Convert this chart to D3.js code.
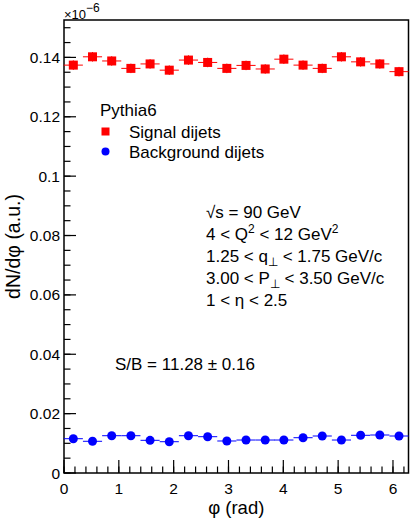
<!DOCTYPE html>
<html>
<head>
<meta charset="utf-8">
<script src="https://cdn.jsdelivr.net/npm/d3@7"></script>
<style>
  body { margin: 0; background: #fff; }
  text { font-family: "Liberation Sans", Arial, sans-serif; fill: #000; }
</style>
</head>
<body>
<script>
// bin centres in phi (rad), 18 bins over [0, 2pi]
const phiBins = [0.17, 0.52, 0.87, 1.22, 1.57, 1.92, 2.27, 2.62, 2.97,
                 3.32, 3.67, 4.01, 4.36, 4.71, 5.06, 5.41, 5.76, 6.11];
const binWidth = 0.349;

// dN/dphi in units of 1e-6
const signalVals = [0.1374, 0.1402, 0.1388, 0.1363, 0.1378, 0.1357, 0.1391, 0.1383, 0.1363,
                    0.1373, 0.1361, 0.1394, 0.1374, 0.1363, 0.1402, 0.1385, 0.1378, 0.1352];
const signalErr = [0.0016, 0.0016, 0.0016, 0.0016, 0.0016, 0.0016, 0.0016, 0.0016, 0.0016,
                   0.0016, 0.0016, 0.0016, 0.0016, 0.0016, 0.0016, 0.0016, 0.0016, 0.0016];
const backgroundVals = [0.01155, 0.01068, 0.01256, 0.01256, 0.01101, 0.01054, 0.01256, 0.01223, 0.01078,
                        0.01111, 0.01111, 0.01111, 0.01189, 0.01246, 0.01111, 0.01270, 0.01280, 0.01246];
const backgroundErr = [0.0005, 0.0005, 0.0005, 0.0005, 0.0005, 0.0005, 0.0005, 0.0005, 0.0005,
                       0.0005, 0.0005, 0.0005, 0.0005, 0.0005, 0.0005, 0.0005, 0.0005, 0.0005];

const xTicks = [0, 1, 2, 3, 4, 5, 6];
const yTicks = [0, 0.02, 0.04, 0.06, 0.08, 0.1, 0.12, 0.14];

const svgWidth = 415, svgHeight = 522;
const margin = { top: 20, right: 6.5, bottom: 49, left: 64 };
const width = svgWidth - margin.left - margin.right;
const height = svgHeight - margin.top - margin.bottom;

const svg = d3.select("body").append("svg")
    .attr("width", svgWidth)
    .attr("height", svgHeight);

const chartGroup = svg.append("g")
    .attr("transform", `translate(${margin.left}, ${margin.top})`);

const x = d3.scaleLinear().domain([0, 2 * Math.PI]).range([0, width]);
const y = d3.scaleLinear().domain([0, 0.1526]).range([height, 0]);

// minor ticks
const xMinor = d3.range(0, 6.3, 0.2);
const yMinor = d3.range(0, 0.1526, 0.005);

chartGroup.selectAll(".xminor").data(xMinor).enter().append("line")
    .attr("x1", d => x(d)).attr("x2", d => x(d))
    .attr("y1", height).attr("y2", height - 6.5)
    .attr("stroke", "#000").attr("stroke-width", 1.2);
chartGroup.selectAll(".xmajor").data(xTicks).enter().append("line")
    .attr("x1", d => x(d)).attr("x2", d => x(d))
    .attr("y1", height).attr("y2", height - 13)
    .attr("stroke", "#000").attr("stroke-width", 1.2);
chartGroup.selectAll(".yminor").data(yMinor).enter().append("line")
    .attr("x1", 0).attr("x2", 6.5)
    .attr("y1", d => y(d)).attr("y2", d => y(d))
    .attr("stroke", "#000").attr("stroke-width", 1.2);
chartGroup.selectAll(".ymajor").data(yTicks).enter().append("line")
    .attr("x1", 0).attr("x2", 12)
    .attr("y1", d => y(d)).attr("y2", d => y(d))
    .attr("stroke", "#000").attr("stroke-width", 1.2);

// tick labels
chartGroup.selectAll(".xlab").data(xTicks).enter().append("text")
    .attr("x", d => x(d)).attr("y", height + 21)
    .attr("text-anchor", "middle").attr("font-size", 15.5)
    .text(d => d);
chartGroup.selectAll(".ylab").data(yTicks).enter().append("text")
    .attr("x", -4).attr("y", d => y(d) + 5.5)
    .attr("text-anchor", "end").attr("font-size", 15.5)
    .text(d => d === 0 ? "0" : d3.format("")(+d.toFixed(2)));

// frame
chartGroup.append("rect")
    .attr("width", width).attr("height", height)
    .attr("fill", "none").attr("stroke", "#000").attr("stroke-width", 1.5);

// exponent
const expo = svg.append("text").attr("x", 64).attr("y", 18.5).attr("font-size", 13);
expo.append("tspan").text("\u00d710");
expo.append("tspan").attr("dy", -7).attr("font-size", 12).text("\u22126");

// axis titles
svg.append("text")
    .attr("x", margin.left + width / 2).attr("y", 514)
    .attr("text-anchor", "middle").attr("font-size", 18.5)
    .text("\u03c6 (rad)");
svg.append("text")
    .attr("transform", `translate(20, ${margin.top + height / 2}) rotate(-90)`)
    .attr("text-anchor", "middle").attr("font-size", 19.5)
    .text("dN/d\u03c6 (a.u.)");

// data series
function drawSeries(vals, errs, color, shape) {
    const g = chartGroup.append("g");
    const pts = g.selectAll("g").data(vals).enter().append("g");
    pts.append("line")
        .attr("x1", (d, i) => x(phiBins[i] - binWidth / 2))
        .attr("x2", (d, i) => x(phiBins[i] + binWidth / 2))
        .attr("y1", d => y(d)).attr("y2", d => y(d))
        .attr("stroke", color).attr("stroke-width", 1);
    pts.append("line")
        .attr("x1", (d, i) => x(phiBins[i])).attr("x2", (d, i) => x(phiBins[i]))
        .attr("y1", (d, i) => y(d - errs[i])).attr("y2", (d, i) => y(d + errs[i]))
        .attr("stroke", color).attr("stroke-width", 1);
    if (shape === "square") {
        pts.append("rect")
            .attr("x", (d, i) => x(phiBins[i]) - 4.5).attr("y", d => y(d) - 4.5)
            .attr("width", 9).attr("height", 9).attr("fill", color);
    } else {
        pts.append("circle")
            .attr("cx", (d, i) => x(phiBins[i])).attr("cy", d => y(d))
            .attr("r", 4.5).attr("fill", color);
    }
}
drawSeries(signalVals, signalErr, "#ff0000", "square");
drawSeries(backgroundVals, backgroundErr, "#0000ff", "circle");

// legend
svg.append("text").attr("x", 100).attr("y", 116).attr("font-size", 17).text("Pythia6");
svg.append("rect").attr("x", 101.5).attr("y", 127.5).attr("width", 8).attr("height", 8).attr("fill", "#ff0000");
svg.append("text").attr("x", 129).attr("y", 137.5).attr("font-size", 17).text("Signal dijets");
svg.append("circle").attr("cx", 105.5).attr("cy", 151.5).attr("r", 4).attr("fill", "#0000ff");
svg.append("text").attr("x", 129).attr("y", 157.5).attr("font-size", 17).text("Background dijets");

// kinematic cuts
const cuts = svg.append("g").attr("font-size", 17);
function cutLine(yPos) { return cuts.append("text").attr("x", 206).attr("y", yPos); }
let t = cutLine(218);
t.append("tspan").text("\u221as = 90 GeV");
t = cutLine(240);
t.append("tspan").text("4 < Q");
t.append("tspan").attr("dy", -7).attr("font-size", 12).text("2");
t.append("tspan").attr("dy", 7).text(" < 12 GeV");
t.append("tspan").attr("dy", -7).attr("font-size", 12).text("2");
t = cutLine(262);
t.append("tspan").text("1.25 < q");
t.append("tspan").attr("dy", 4).attr("font-size", 12).text("\u22a5");
t.append("tspan").attr("dy", -4).text(" < 1.75 GeV/c");
t = cutLine(284);
t.append("tspan").text("3.00 < P");
t.append("tspan").attr("dy", 4).attr("font-size", 12).text("\u22a5");
t.append("tspan").attr("dy", -4).text(" < 3.50 GeV/c");
t = cutLine(306);
t.append("tspan").text("1 < \u03b7 < 2.5");

svg.append("text").attr("x", 115).attr("y", 369.5).attr("font-size", 17)
    .text("S/B = 11.28 \u00b1 0.16");
</script>
</body>
</html>
